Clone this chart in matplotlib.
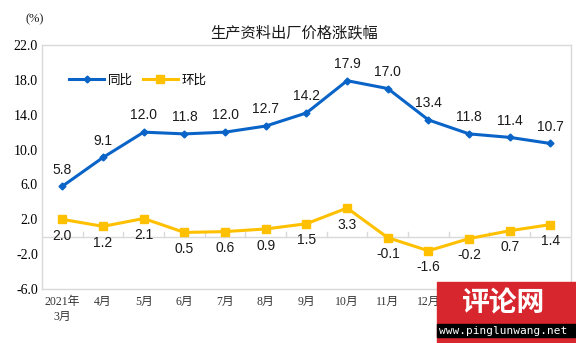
import matplotlib
matplotlib.use("Agg")
import matplotlib.pyplot as plt
from matplotlib.patches import Rectangle

plt.rcParams['font.family'] = ['Liberation Sans', 'Noto Sans CJK SC', 'DejaVu Sans']

months = ["2021年\n3月", "4月", "5月", "6月", "7月", "8月", "9月", "10月",
          "11月", "12月", "2022年\n1月", "2月", "3月"]
yoy = [5.8, 9.1, 12.0, 11.8, 12.0, 12.7, 14.2, 17.9, 17.0, 13.4, 11.8, 11.4, 10.7]
mom = [2.0, 1.2, 2.1, 0.5, 0.6, 0.9, 1.5, 3.3, -0.1, -1.6, -0.2, 0.7, 1.4]
yticks = [-6.0, -2.0, 2.0, 6.0, 10.0, 14.0, 18.0, 22.0]

blue = "#0A64C8"
yellow = "#FFC000"
frame = "#D9D9D9"

fig = plt.figure(figsize=(5.76, 3.43), dpi=100)
ax = fig.add_axes([0.073, 0.157, 0.918, 0.712])

x = list(range(len(months)))
ax.plot(x, yoy, color=blue, lw=2.2, marker="D", ms=3.5, label="同比", zorder=3)
ax.plot(x, mom, color=yellow, lw=2.2, marker="s", ms=5.5, label="环比", zorder=3)

for xi, v in zip(x, yoy):
    ax.annotate(f"{v:.1f}", (xi, v), xytext=(0, 7), textcoords="offset points",
                ha="center", va="bottom", fontsize=10, color="#1a1a1a")
for xi, v in zip(x, mom):
    ax.annotate(f"{v:.1f}", (xi, v), xytext=(0, -7), textcoords="offset points",
                ha="center", va="top", fontsize=10, color="#1a1a1a")

ax.set_xlim(-0.5, len(months) - 0.5)
ax.set_ylim(-6, 22)
ax.set_yticks(yticks)
ax.set_yticklabels([f"{t:.1f}" for t in yticks], fontsize=10,
                   family=["Liberation Serif", "Noto Sans CJK SC"])
ax.tick_params(axis="y", length=0, pad=3)

# category labels below the plot, zero line carries the category tick marks
ax.set_xticks(x)
ax.set_xticklabels(months, fontsize=8.5, color="#333333",
                   family=["Liberation Serif", "Noto Sans CJK SC"], linespacing=1.3)
ax.tick_params(axis="x", length=0, pad=5)
ax.axhline(0, color=frame, lw=1, zorder=1)
for b in range(1, len(months)):
    ax.plot([b - 0.5, b - 0.5], [0, 0.6], color=frame, lw=1, zorder=1)

for s in ax.spines.values():
    s.set_color(frame)
    s.set_linewidth(1)

ax.legend(loc="upper left", bbox_to_anchor=(0.03, 0.93), ncol=2, frameon=False,
          handlelength=2.8, columnspacing=0.8, handletextpad=0.3,
          prop={"family": ["Noto Sans CJK SC"], "size": 9})

fig.text(0.51, 0.905, "生产资料出厂价格涨跌幅", ha="center", va="center",
         fontsize=11, family=["Noto Sans CJK SC"], color="#1a1a1a")
fig.text(0.045, 0.945, "(%)", ha="left", va="center", fontsize=9,
         family=["Liberation Serif"], color="#1a1a1a")

# site badge in the lower right corner
fig.patches.append(Rectangle((437 / 576, 0.0), 139 / 576, 61 / 343,
                             transform=fig.transFigure, color="#D7262E", zorder=10))
fig.patches.append(Rectangle((437 / 576, 6 / 343), 139 / 576, 13 / 343,
                             transform=fig.transFigure, color="#000000", zorder=11))
fig.text(504 / 576, 40 / 343, "评论网", ha="center", va="center", fontsize=20,
         color="white", family=["Noto Sans CJK SC"], zorder=12, weight="bold")
fig.text(503 / 576, 12.5 / 343, "www.pinglunwang.net", ha="center", va="center",
         fontsize=8, color="white", family=["DejaVu Sans Mono"], zorder=12)

fig.savefig("out.png", dpi=100)
